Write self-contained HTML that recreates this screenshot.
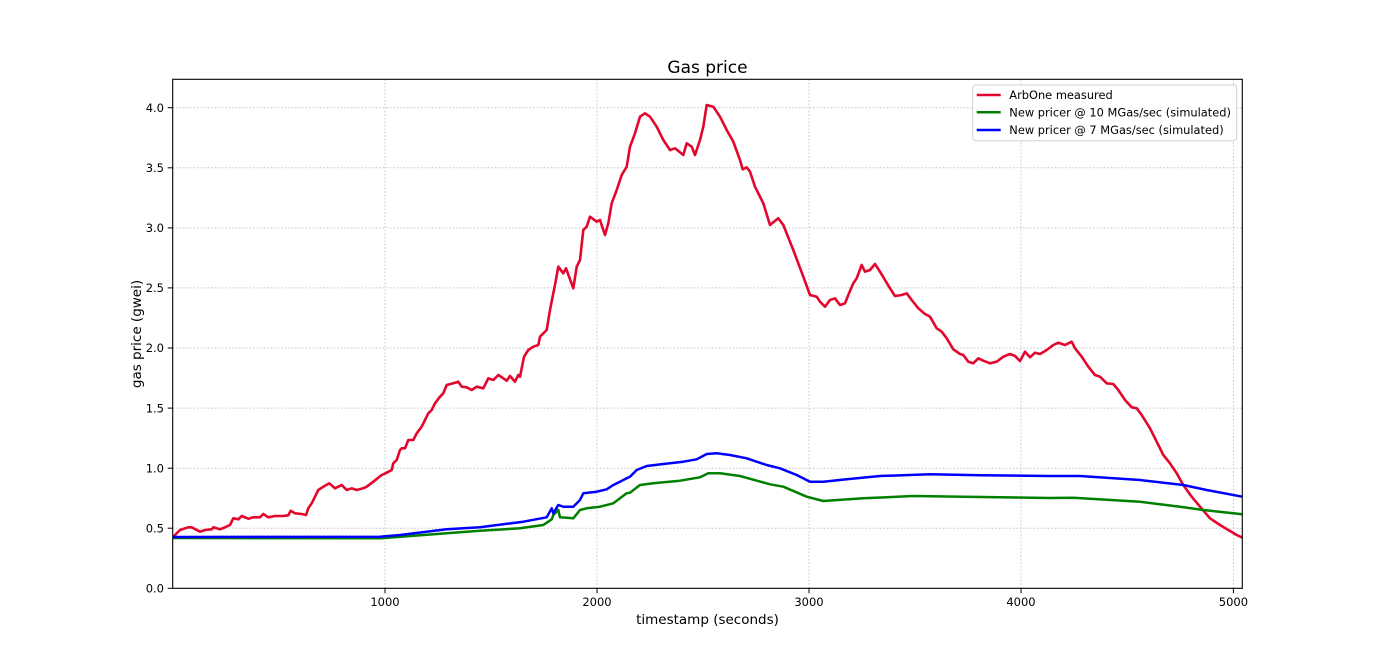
<!DOCTYPE html>
<html>
<head>
<meta charset="utf-8">
<style>
html,body{margin:0;padding:0;background:#fff;}
svg{display:block;}
text{font-family:"DejaVu Sans","Liberation Sans",sans-serif;fill:#000;}
</style>
</head>
<body>
<svg width="1380" height="660" viewBox="0 0 1380 660" xmlns="http://www.w3.org/2000/svg">
<rect x="0" y="0" width="1380" height="660" fill="#fff"/>
<defs>
<clipPath id="pa"><rect x="172.7" y="79.3" width="1069.6" height="509"/></clipPath>
</defs>
<!-- grid -->
<g stroke="#c4c4c4" stroke-width="1" stroke-dasharray="1.5,2">
<line x1="385" y1="79.3" x2="385" y2="588.3"/>
<line x1="597" y1="79.3" x2="597" y2="588.3"/>
<line x1="809" y1="79.3" x2="809" y2="588.3"/>
<line x1="1021" y1="79.3" x2="1021" y2="588.3"/>
<line x1="1233.4" y1="79.3" x2="1233.4" y2="588.3"/>
<line x1="172.7" y1="528.2" x2="1242.3" y2="528.2"/>
<line x1="172.7" y1="468.2" x2="1242.3" y2="468.2"/>
<line x1="172.7" y1="408.1" x2="1242.3" y2="408.1"/>
<line x1="172.7" y1="348.0" x2="1242.3" y2="348.0"/>
<line x1="172.7" y1="287.9" x2="1242.3" y2="287.9"/>
<line x1="172.7" y1="227.9" x2="1242.3" y2="227.9"/>
<line x1="172.7" y1="167.8" x2="1242.3" y2="167.8"/>
<line x1="172.7" y1="107.7" x2="1242.3" y2="107.7"/>
</g>
<g clip-path="url(#pa)" fill="none" stroke-linejoin="round" stroke-linecap="round">
<polyline stroke="#e3062d" stroke-width="2.6" points="173.3,536.7 180,530 188.3,527.3 191.7,527.3 200,531.7 205,530 211.7,529.3 213.3,527.3 220,529.3 225,527.3 230,525 233.3,518.3 238.3,519.3 241.7,516 248.3,518.7 253.3,517.3 260,517.3 263.3,514 268.3,517.3 275,516 283.3,516 288.3,515.3 290.7,510.7 295,513.3 301.7,514 306,515 308.3,508.3 311.7,503.3 318.3,490 323.3,486.7 329.3,483.3 335,488.3 341.7,485 346.7,490 351.7,488.3 356.7,490 363.3,488.3 366.7,486.7 373.3,481.7 381.7,475 386.7,472.7 391.7,470 393.3,463.3 396.7,460 400,450 401.7,448.3 405,448.3 408.3,440 413.3,440 416.7,433.3 421.7,426.7 425,420 428.3,413.3 431.7,410 435,403.3 440,396.7 443.3,393.3 446.7,385 453.3,383.3 458.3,381.7 461.7,386.7 466.7,387.3 471.7,390 476.7,386.7 483.3,388.3 488.3,378.3 493.3,380 498.3,375 503.3,378.3 506.7,380.7 510,376 515,381.7 518.3,375 520,376.7 524,356.7 528.3,350 533.3,346.7 538.3,345 540,336.7 546.7,330 550,310 553.3,293.3 555,285 558.3,266.7 563.3,273.3 566,268.3 573.3,288.3 576.7,266.7 580,260 583.3,230 586.7,226.7 590,216.7 596.7,221.7 600,220 605,235 608.3,223.3 611.7,203.3 616.7,190 621.7,175 626.7,166.7 630,146.7 635,133.3 640,116.7 645,113.3 650,116.7 656.7,126.7 663.3,140 670,150 675,148.3 683.3,155 686.7,143.3 691.7,146.7 695,155 700,140 703.3,126.7 706.7,105 713.3,106.7 720,116.7 726.7,130 733.3,141.7 740,160 742.7,169.3 746.7,167.3 750,171.7 755,186.7 763.3,203.3 770,225 778.3,218.3 783.3,225 793.3,250 803.3,276.7 810,295 816.7,296.7 820,301.7 825,306.7 830,300 835,298.3 840,305 845,303.3 848.3,295 853.3,283.3 856.7,278.3 861.7,265 865,271.7 870,270 875,264 880,271.7 885,280 890,288.3 895,296 901.7,295 906.7,293.3 911.7,300 918.3,308.3 925,314 930,316.7 936.7,328.3 941.7,331.7 946.7,338.3 953.3,349.3 960,354 963.3,355 968.3,361.7 973.3,363.3 978.3,358.3 983.3,360.7 990,363.3 996.7,361.7 1003.3,356.7 1010,354 1015,356 1020,361 1025,351.7 1030,357.3 1035,352.7 1040,354 1046.7,350 1053.3,345 1058.3,342.7 1065,345 1071.7,341.7 1075,348.3 1081.7,356.7 1088.3,366.7 1095,375 1100,376.7 1106.7,383.3 1113.3,384 1118.3,390 1125,400 1131.7,407.3 1136.7,408.3 1141.7,415 1150,428.3 1156.7,441.7 1163.3,455 1170,463.3 1176.7,473.3 1183.3,485 1191.7,496.7 1200,506.7 1210,518.3 1220,525 1228.3,530 1236.7,535 1242,537.5"/>
<polyline stroke="#008000" stroke-width="2.5" points="172.7,538 380,538.3 446.7,533.3 480,530.7 520,528.3 543.3,525 551.7,519.3 553.3,515 558.3,510 560,517.3 573.3,518.3 580,510 586.7,508.3 600,506.7 613.3,503.3 626.7,493.3 630,492.7 640,485 653.3,483.3 680,480.7 700,477.3 708.3,473.3 720,473.3 740,476 770,484.3 783.3,486.7 806.7,496.7 823.3,501 863.3,498.3 913.3,496 963.3,496.7 1050,498 1073.3,497.7 1140,501.7 1180,506.7 1203.3,510 1242.3,514.3"/>
<polyline stroke="#0000ff" stroke-width="2.5" points="172.7,537 380,536.7 400,535 446.7,529.3 480,527.3 523.3,521.7 546.7,517.3 551.7,508.3 553.3,513.3 558.3,505 563.3,506.7 573.3,506.7 580,500 583.3,493.3 596.7,491.7 606.7,489.3 613.3,485 620,481.7 626.7,478.3 630,476.7 636.7,470 646.7,466 663.3,464 683.3,461.7 696.7,459.3 706.7,454 716.7,453.3 730,455 746.7,458.3 766.7,465 780,468.3 796.7,475 810,481.7 823.3,481.7 846.7,479.3 880,476 930,474.3 980,475.3 1050,476 1080,476 1140,480 1183.3,485 1206.7,490 1242.3,496.7"/>
</g>
<!-- axes frame -->
<rect x="172.7" y="79.3" width="1069.6" height="509" fill="none" stroke="#000" stroke-width="1.1"/>
<!-- ticks -->
<g stroke="#000" stroke-width="1">
<line x1="385" y1="588.3" x2="385" y2="593.3"/>
<line x1="597" y1="588.3" x2="597" y2="593.3"/>
<line x1="809" y1="588.3" x2="809" y2="593.3"/>
<line x1="1021" y1="588.3" x2="1021" y2="593.3"/>
<line x1="1233.4" y1="588.3" x2="1233.4" y2="593.3"/>
<line x1="167.7" y1="588.3" x2="172.7" y2="588.3"/>
<line x1="167.7" y1="528.2" x2="172.7" y2="528.2"/>
<line x1="167.7" y1="468.2" x2="172.7" y2="468.2"/>
<line x1="167.7" y1="408.1" x2="172.7" y2="408.1"/>
<line x1="167.7" y1="348.0" x2="172.7" y2="348.0"/>
<line x1="167.7" y1="287.9" x2="172.7" y2="287.9"/>
<line x1="167.7" y1="227.9" x2="172.7" y2="227.9"/>
<line x1="167.7" y1="167.8" x2="172.7" y2="167.8"/>
<line x1="167.7" y1="107.7" x2="172.7" y2="107.7"/>
</g>
<g font-size="11.5" text-anchor="middle">
<text x="385" y="606">1000</text>
<text x="597" y="606">2000</text>
<text x="809" y="606">3000</text>
<text x="1021" y="606">4000</text>
<text x="1233.4" y="606">5000</text>
</g>
<g font-size="11.5" text-anchor="end">
<text x="164" y="592.5">0.0</text>
<text x="164" y="532.4">0.5</text>
<text x="164" y="472.4">1.0</text>
<text x="164" y="412.3">1.5</text>
<text x="164" y="352.2">2.0</text>
<text x="164" y="292.1">2.5</text>
<text x="164" y="232.1">3.0</text>
<text x="164" y="172.0">3.5</text>
<text x="164" y="111.9">4.0</text>
</g>
<text x="707.5" y="73" font-size="17" text-anchor="middle">Gas price</text>
<text x="707.5" y="624" font-size="13.5" text-anchor="middle">timestamp (seconds)</text>
<text x="0" y="0" font-size="13.5" text-anchor="middle" transform="translate(141,334) rotate(-90)">gas price (gwei)</text>
<!-- legend -->
<rect x="972.7" y="85" width="264" height="55.7" rx="3" ry="3" fill="#fff" fill-opacity="0.85" stroke="#d0d0d0" stroke-width="1"/>
<g stroke-width="2.5">
<line x1="976.7" y1="95" x2="1000.7" y2="95" stroke="#e3062d"/>
<line x1="976.7" y1="112.3" x2="1000.7" y2="112.3" stroke="#008000"/>
<line x1="976.7" y1="130" x2="1000.7" y2="130" stroke="#0000ff"/>
</g>
<g font-size="11.4">
<text x="1009.3" y="99">ArbOne measured</text>
<text x="1009.3" y="116.3">New pricer @ 10 MGas/sec (simulated)</text>
<text x="1009.3" y="134">New pricer @ 7 MGas/sec (simulated)</text>
</g>
</svg>
</body>
</html>
